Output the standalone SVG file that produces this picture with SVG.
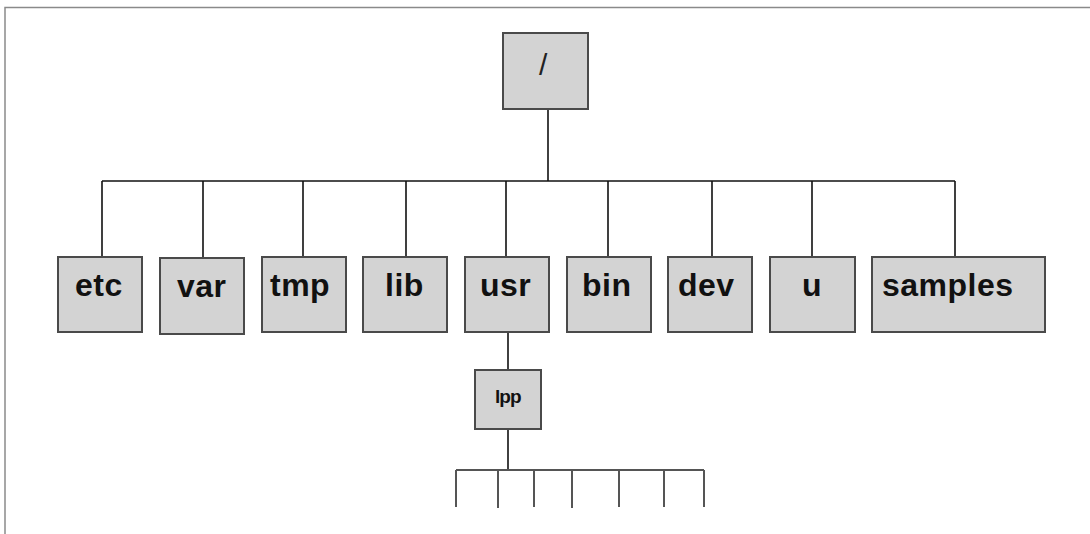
<svg xmlns="http://www.w3.org/2000/svg" width="1090" height="534" viewBox="0 0 1090 534">
  <style>
    .frame { fill: none; stroke: #8a8a8a; stroke-width: 1.5; }
    .box { fill: #d3d3d3; stroke: #4a4a4a; stroke-width: 2; }
    .label { font-family: "Liberation Sans", Arial, sans-serif; font-weight: bold; font-size: 32px; fill: #111; letter-spacing: 0.5px; }
    .root-label { font-family: "Liberation Sans", Arial, sans-serif; font-size: 30px; fill: #222; }
    .small-label { font-family: "Liberation Sans", Arial, sans-serif; font-weight: bold; font-size: 19px; fill: #111; letter-spacing: -1px; }
    .wire { fill: none; stroke: #111; stroke-width: 1.6; }
    .stub { fill: none; stroke: #555; stroke-width: 2; }
  </style>
  <rect width="1090" height="534" fill="#ffffff"/>
  <!-- page frame (top and left edges) -->
  <path class="frame" d="M5,534 V7.5 H1090"/>

  <g id="connectors">
    <!-- root to first level -->
    <path class="wire" d="M548,109 V181"/>
    <path class="wire" d="M102,181 H955"/>
    <path class="wire" d="M102,181 V257 M203,181 V258 M303,181 V257 M406,181 V257 M506,181 V257 M608,181 V257 M712,181 V257 M812,181 V257 M955,181 V257"/>
    <!-- usr to lpp -->
    <path class="wire" d="M508,332 V370"/>
    <!-- lpp to its children -->
    <path class="wire" d="M508,429 V470"/>
    <path class="stub" d="M456,470 H704"/>
    <path class="stub" d="M456,470 V507 M498,470 V508 M534,470 V507 M572,470 V508 M619,470 V507 M664,470 V507 M704,470 V507"/>
  </g>

  <g id="node-root">
    <rect class="box" x="503" y="33" width="85" height="76"/>
    <text class="root-label" x="539" y="75">/</text>
  </g>
  <g id="node-etc">
    <rect class="box" x="58" y="257" width="84" height="75"/>
    <text class="label" x="75" y="296">etc</text>
  </g>
  <g id="node-var">
    <rect class="box" x="160" y="258" width="84" height="76"/>
    <text class="label" x="177" y="297">var</text>
  </g>
  <g id="node-tmp">
    <rect class="box" x="262" y="257" width="84" height="75"/>
    <text class="label" x="270" y="296">tmp</text>
  </g>
  <g id="node-lib">
    <rect class="box" x="363" y="257" width="84" height="75"/>
    <text class="label" x="385" y="296">lib</text>
  </g>
  <g id="node-usr">
    <rect class="box" x="465" y="257" width="84" height="75"/>
    <text class="label" x="480" y="296">usr</text>
  </g>
  <g id="node-bin">
    <rect class="box" x="567" y="257" width="84" height="75"/>
    <text class="label" x="582" y="296">bin</text>
  </g>
  <g id="node-dev">
    <rect class="box" x="668" y="257" width="84" height="75"/>
    <text class="label" x="678" y="296">dev</text>
  </g>
  <g id="node-u">
    <rect class="box" x="770" y="257" width="85" height="75"/>
    <text class="label" x="802" y="296">u</text>
  </g>
  <g id="node-samples">
    <rect class="box" x="872" y="257" width="173" height="75"/>
    <text class="label" x="882" y="296">samples</text>
  </g>
  <g id="node-lpp">
    <rect class="box" x="475" y="370" width="66" height="59"/>
    <text class="small-label" x="495" y="403">lpp</text>
  </g>
</svg>
